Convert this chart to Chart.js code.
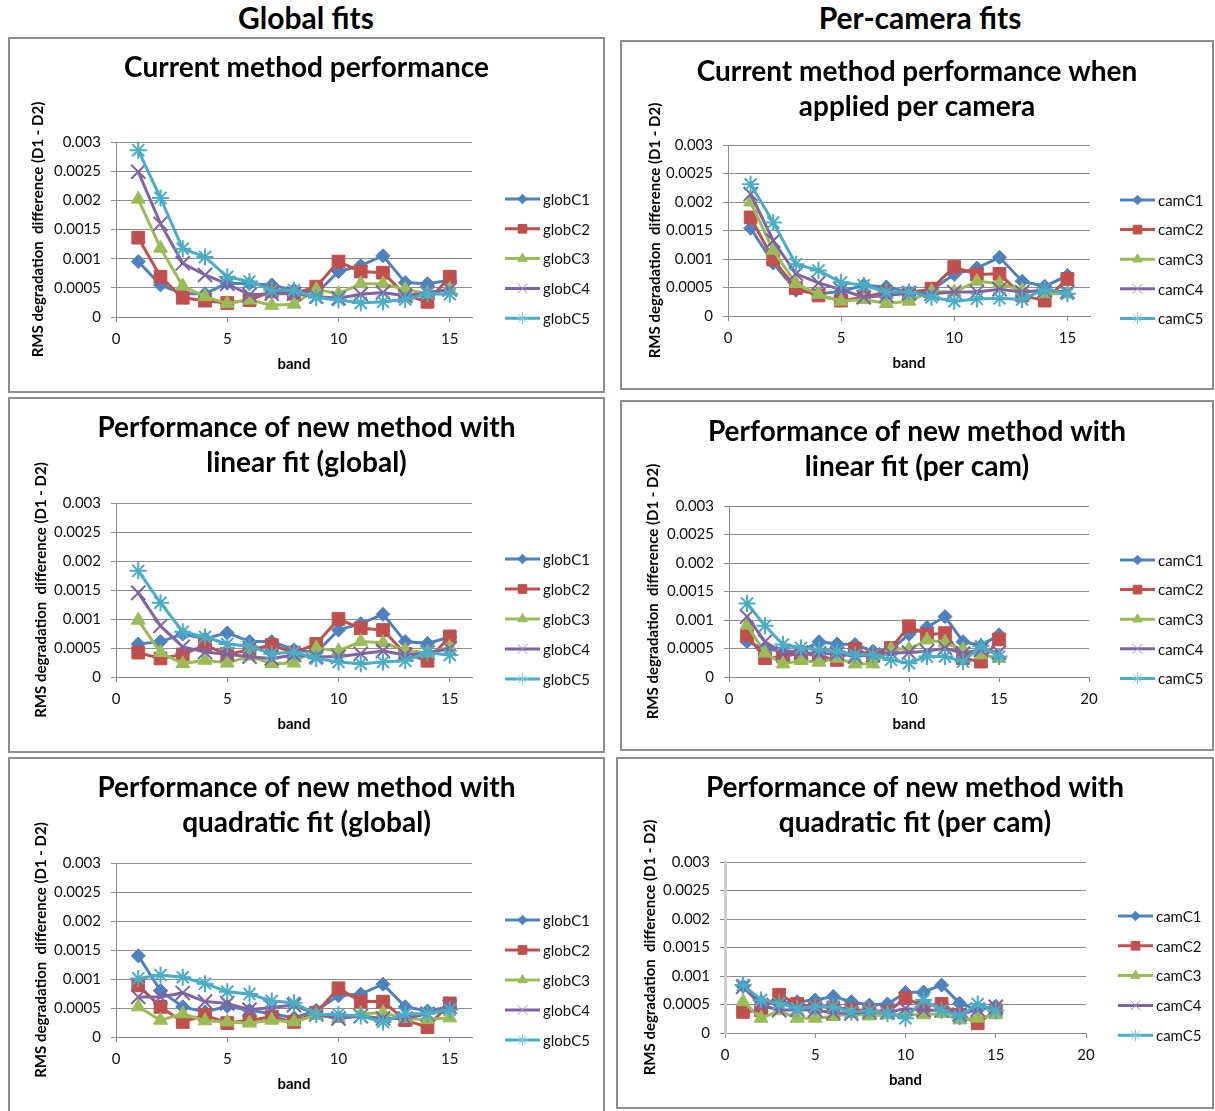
<!DOCTYPE html>
<html>
<head>
<meta charset="utf-8">
<script src="https://cdn.jsdelivr.net/npm/chart.js@4.4.1/dist/chart.umd.min.js"></script>
<style>
  html, body { margin: 0; padding: 0; background: #fff; }
  body { position: relative; width: 1215px; height: 1111px; overflow: hidden; font-family: Lato, "Open Sans", sans-serif; }
  .hdr { position: absolute; top: 0; height: 34px; line-height: 34px; text-align: center; font-weight: bold; font-size: 30px; color: #000; }
  canvas { position: absolute; }
  .frame { position: absolute; box-sizing: border-box; border: 2px solid #8e8e8e; pointer-events: none; }
</style>
</head>
<body>
<div class="hdr" style="left:6px;width:600px;">Global fits</div>
<div class="hdr" style="left:620px;width:600px;">Per-camera fits</div>
<script>
// ---- data: RMS degradation difference (D1 - D2) per band ----
const bands = [1, 2, 3, 4, 5, 6, 7, 8, 9, 10, 11, 12, 13, 14, 15];

const globNames = ['globC1', 'globC2', 'globC3', 'globC4', 'globC5'];
const camNames  = ['camC1', 'camC2', 'camC3', 'camC4', 'camC5'];

// current method, global fits
const curGlobC1 = [0.00095, 0.00055, 0.00040, 0.00040, 0.00058, 0.00057, 0.00055, 0.00046, 0.00040, 0.00078, 0.00088, 0.00105, 0.00059, 0.00057, 0.00063];
const curGlobC2 = [0.00136, 0.00069, 0.00033, 0.00028, 0.00024, 0.00029, 0.00044, 0.00040, 0.00052, 0.00095, 0.00078, 0.00076, 0.00038, 0.00026, 0.00069];
const curGlobC3 = [0.00202, 0.00118, 0.00053, 0.00035, 0.00023, 0.00029, 0.00020, 0.00022, 0.00047, 0.00040, 0.00057, 0.00057, 0.00047, 0.00040, 0.00047];
const curGlobC4 = [0.00249, 0.00160, 0.00092, 0.00072, 0.00057, 0.00038, 0.00040, 0.00040, 0.00035, 0.00032, 0.00039, 0.00042, 0.00036, 0.00042, 0.00047];
const curGlobC5 = [0.00286, 0.00204, 0.00117, 0.00103, 0.00069, 0.00061, 0.00046, 0.00046, 0.00033, 0.00029, 0.00024, 0.00026, 0.00030, 0.00040, 0.00039];

// current method, per camera
const curCamC1 = [0.00154, 0.00093, 0.00045, 0.00039, 0.00043, 0.00054, 0.00051, 0.00042, 0.00046, 0.00073, 0.00084, 0.00103, 0.00061, 0.00052, 0.00071];
const curCamC2 = [0.00173, 0.00099, 0.00049, 0.00036, 0.00027, 0.00033, 0.00042, 0.00038, 0.00048, 0.00086, 0.00073, 0.00074, 0.00036, 0.00027, 0.00065];
const curCamC3 = [0.00200, 0.00115, 0.00057, 0.00038, 0.00026, 0.00029, 0.00022, 0.00026, 0.00043, 0.00042, 0.00061, 0.00057, 0.00045, 0.00039, 0.00039];
const curCamC4 = [0.00214, 0.00132, 0.00074, 0.00058, 0.00046, 0.00033, 0.00036, 0.00040, 0.00039, 0.00042, 0.00042, 0.00047, 0.00042, 0.00045, 0.00042];
const curCamC5 = [0.00231, 0.00164, 0.00091, 0.00080, 0.00059, 0.00054, 0.00042, 0.00042, 0.00033, 0.00026, 0.00030, 0.00031, 0.00029, 0.00047, 0.00039];

// new method, linear fit, global
const linGlobC1 = [0.00057, 0.00061, 0.00074, 0.00066, 0.00076, 0.00061, 0.00061, 0.00047, 0.00042, 0.00081, 0.00092, 0.00108, 0.00061, 0.00058, 0.00069];
const linGlobC2 = [0.00042, 0.00032, 0.00039, 0.00055, 0.00039, 0.00047, 0.00055, 0.00042, 0.00057, 0.00100, 0.00084, 0.00081, 0.00040, 0.00028, 0.00070];
const linGlobC3 = [0.00098, 0.00042, 0.00023, 0.00029, 0.00024, 0.00036, 0.00023, 0.00024, 0.00050, 0.00045, 0.00061, 0.00059, 0.00046, 0.00042, 0.00051];
const linGlobC4 = [0.00145, 0.00088, 0.00052, 0.00043, 0.00039, 0.00035, 0.00032, 0.00038, 0.00035, 0.00035, 0.00040, 0.00045, 0.00038, 0.00042, 0.00049];
const linGlobC5 = [0.00183, 0.00128, 0.00078, 0.00069, 0.00057, 0.00053, 0.00040, 0.00043, 0.00032, 0.00026, 0.00023, 0.00026, 0.00028, 0.00042, 0.00038];

// new method, linear fit, per camera
const linCamC1 = [0.00062, 0.00049, 0.00045, 0.00045, 0.00062, 0.00058, 0.00057, 0.00045, 0.00048, 0.00075, 0.00087, 0.00106, 0.00062, 0.00055, 0.00074];
const linCamC2 = [0.00073, 0.00033, 0.00036, 0.00042, 0.00037, 0.00030, 0.00049, 0.00037, 0.00051, 0.00089, 0.00074, 0.00077, 0.00033, 0.00027, 0.00066];
const linCamC3 = [0.00091, 0.00042, 0.00023, 0.00029, 0.00026, 0.00033, 0.00023, 0.00023, 0.00049, 0.00049, 0.00065, 0.00061, 0.00048, 0.00039, 0.00033];
const linCamC4 = [0.00106, 0.00062, 0.00042, 0.00043, 0.00041, 0.00041, 0.00036, 0.00039, 0.00042, 0.00043, 0.00045, 0.00051, 0.00041, 0.00048, 0.00043];
const linCamC5 = [0.00129, 0.00090, 0.00057, 0.00051, 0.00048, 0.00045, 0.00039, 0.00039, 0.00030, 0.00024, 0.00036, 0.00036, 0.00027, 0.00054, 0.00036];

// new method, quadratic fit, global
const quadGlobC1 = [0.00140, 0.00080, 0.00052, 0.00043, 0.00053, 0.00046, 0.00040, 0.00033, 0.00046, 0.00071, 0.00074, 0.00091, 0.00052, 0.00045, 0.00052];
const quadGlobC2 = [0.00089, 0.00052, 0.00026, 0.00038, 0.00024, 0.00029, 0.00035, 0.00026, 0.00042, 0.00084, 0.00061, 0.00061, 0.00029, 0.00017, 0.00058];
const quadGlobC3 = [0.00052, 0.00029, 0.00040, 0.00028, 0.00026, 0.00024, 0.00029, 0.00026, 0.00038, 0.00032, 0.00040, 0.00042, 0.00032, 0.00030, 0.00033];
const quadGlobC4 = [0.00069, 0.00069, 0.00076, 0.00061, 0.00058, 0.00047, 0.00051, 0.00055, 0.00039, 0.00032, 0.00036, 0.00032, 0.00032, 0.00040, 0.00052];
const quadGlobC5 = [0.00101, 0.00107, 0.00103, 0.00092, 0.00078, 0.00074, 0.00062, 0.00059, 0.00039, 0.00039, 0.00036, 0.00026, 0.00040, 0.00040, 0.00047];

// new method, quadratic fit, per camera
const quadCamC1 = [0.00082, 0.00055, 0.00052, 0.00055, 0.00058, 0.00064, 0.00055, 0.00049, 0.00051, 0.00071, 0.00072, 0.00084, 0.00052, 0.00041, 0.00047];
const quadCamC2 = [0.00037, 0.00040, 0.00067, 0.00051, 0.00046, 0.00045, 0.00041, 0.00040, 0.00037, 0.00061, 0.00047, 0.00051, 0.00032, 0.00017, 0.00040];
const quadCamC3 = [0.00055, 0.00026, 0.00039, 0.00026, 0.00026, 0.00029, 0.00034, 0.00030, 0.00032, 0.00032, 0.00032, 0.00034, 0.00023, 0.00026, 0.00032];
const quadCamC4 = [0.00081, 0.00049, 0.00040, 0.00041, 0.00040, 0.00036, 0.00034, 0.00037, 0.00036, 0.00043, 0.00040, 0.00040, 0.00032, 0.00041, 0.00046];
const quadCamC5 = [0.00084, 0.00058, 0.00052, 0.00043, 0.00046, 0.00046, 0.00037, 0.00039, 0.00034, 0.00026, 0.00058, 0.00040, 0.00029, 0.00051, 0.00039];

// axis text
const yTickLabels = ['0', '0.0005', '0.001', '0.0015', '0.002', '0.0025', '0.003'];
const yAxisTitle = 'RMS degradation  difference (D1 - D2)';
const xAxisTitle = 'band';

// ---- styling ----
const FONT = 'Lato, "Open Sans", sans-serif';
const GRID = '#8e8e8e';
const seriesStyle = [
  { color: '#4F81BD', pointStyle: 'rectRot',  radius: 7,   bw: 1 },
  { color: '#C0504D', pointStyle: 'rect',     radius: 9,   bw: 1 },
  { color: '#9BBB59', pointStyle: 'triangle', radius: 8,   bw: 1 },
  { color: '#8064A2', pointStyle: 'crossRot', radius: 10,  bw: 2 },
  { color: '#4BACC6', pointStyle: 'star',     radius: 8.5, bw: 2 }
];

// legend drawn as line + marker, like a spreadsheet legend
const lineLegend = {
  id: 'lineLegend',
  afterDraw(chart, args, opts) {
    const ctx = chart.ctx;
    const drawPoint = Chart.helpers && Chart.helpers.drawPoint;
    ctx.save();
    chart.data.datasets.forEach((ds, i) => {
      const y = opts.y + i * opts.gap;
      ctx.strokeStyle = ds.borderColor;
      ctx.fillStyle = ds.borderColor;
      ctx.lineWidth = 3;
      ctx.beginPath();
      ctx.moveTo(opts.x, y);
      ctx.lineTo(opts.x + opts.len, y);
      ctx.stroke();
      if (drawPoint) {
        const cross = ds.pointStyle === 'crossRot' || ds.pointStyle === 'star';
        ctx.lineWidth = 1;
        if (cross) { ctx.strokeStyle = ds.legendMarkColor; }
        drawPoint(ctx, { pointStyle: ds.pointStyle, radius: ds.pointRadius * 0.68, rotation: 0, borderWidth: 1 }, opts.x + opts.len / 2, y);
      }
      ctx.fillStyle = '#111';
      ctx.font = opts.font;
      ctx.textAlign = 'left';
      ctx.textBaseline = 'middle';
      ctx.fillText(ds.label, opts.x + opts.len + 3, y + 1);
    });
    ctx.restore();
  }
};

// ---- panels (page coordinates) ----
const panels = [
  { title: ['Current method performance'], names: globNames,
    series: [curGlobC1, curGlobC2, curGlobC3, curGlobC4, curGlobC5], xMax: 16,
    rect: [8, 37, 605, 393], area: [116, 142, 472, 317], titleY: 68, yTitleX: 38.5, legend: [505, 199, 29.8] },
  { title: ['Current method performance when', 'applied per camera'], names: camNames,
    series: [curCamC1, curCamC2, curCamC3, curCamC4, curCamC5], xMax: 16,
    rect: [620, 40, 1214, 390], area: [728, 145, 1090, 316], titleY: 72, yTitleX: 655, legend: [1120, 200, 29.6] },
  { title: ['Performance of new method with', 'linear fit (global)'], names: globNames,
    series: [linGlobC1, linGlobC2, linGlobC3, linGlobC4, linGlobC5], xMax: 16,
    rect: [8, 397, 605, 753], area: [116, 503, 472, 677], titleY: 428, yTitleX: 41, legend: [505, 559, 30] },
  { title: ['Performance of new method with', 'linear fit (per cam)'], names: camNames,
    series: [linCamC1, linCamC2, linCamC3, linCamC4, linCamC5], xMax: 20,
    rect: [620, 400, 1214, 751], area: [729, 506, 1089, 677], titleY: 432, yTitleX: 653, legend: [1120, 560, 29.6] },
  { title: ['Performance of new method with', 'quadratic fit (global)'], names: globNames,
    series: [quadGlobC1, quadGlobC2, quadGlobC3, quadGlobC4, quadGlobC5], xMax: 16,
    rect: [8, 757, 605, 1113], area: [116, 863, 472, 1037], titleY: 788, yTitleX: 41, legend: [505, 920, 30] },
  { title: ['Performance of new method with', 'quadratic fit (per cam)'], names: camNames,
    series: [quadCamC1, quadCamC2, quadCamC3, quadCamC4, quadCamC5], xMax: 20,
    rect: [616, 757, 1214, 1109], area: [725, 862, 1086, 1033], titleY: 788, yTitleX: 650, legend: [1118, 916, 29.8],
    yAxisLine: { color: '#cfcfcf', width: 3 } }
];

const TITLE_SIZE = 28, TITLE_LH = 35;
const TICK_SIZE = 15, AXT_SIZE = 15, LEGEND_SIZE = 15;

panels.forEach(p => {
  const [L, T, R, B] = p.rect;
  const W = R - L, H = B - T;
  const cv = document.createElement('canvas');
  cv.width = W; cv.height = H;
  cv.style.left = L + 'px'; cv.style.top = T + 'px';
  cv.style.width = W + 'px'; cv.style.height = H + 'px';
  document.body.appendChild(cv);
  const fr = document.createElement('div');
  fr.className = 'frame';
  fr.style.left = L + 'px'; fr.style.top = T + 'px';
  fr.style.width = W + 'px'; fr.style.height = H + 'px';
  document.body.appendChild(fr);

  const a = { l: p.area[0] - L, t: p.area[1] - T, r: p.area[2] - L, b: p.area[3] - T };
  const titlePadTop = (p.titleY - T) - TITLE_LH / 2;
  const titlePadBottom = a.t - titlePadTop - TITLE_LH * p.title.length;
  const axtLH = AXT_SIZE * 1.2;
  const yTitleGap = (p.yTitleX - L) - axtLH / 2;
  const yWidth = a.l;
  const xHeight = 47 + axtLH / 2;
  const padBottom = H - a.b - xHeight;
  const legendSpace = W - a.r;
  const tickLH = TICK_SIZE * 1.2;
  const yLine = p.yAxisLine || { color: GRID, width: 1 };

  const datasets = p.series.map((vals, i) => {
    const s = seriesStyle[i];
    return {
      label: p.names[i],
      data: bands.map((b, j) => ({ x: b, y: vals[j] })),
      borderColor: s.color,
      backgroundColor: s.color,
      borderWidth: 3,
      tension: 0,
      pointStyle: s.pointStyle,
      pointRadius: s.radius,
      pointBackgroundColor: s.color,
      pointBorderColor: s.color,
      pointBorderWidth: s.bw,
      legendMarkColor: i === 3 ? '#a58fc4' : '#7fc6d9',
      order: 5 - i,
      clip: false
    };
  });

  new Chart(cv, {
    type: 'line',
    data: { datasets },
    plugins: [lineLegend],
    options: {
      responsive: false,
      animation: false,
      events: [],
      layout: { padding: { left: 0, right: 0, top: 0, bottom: padBottom } },
      plugins: {
        legend: { display: false },
        tooltip: { enabled: false },
        title: {
          display: true, text: p.title, color: '#000',
          font: { family: FONT, size: TITLE_SIZE, weight: 'bold', lineHeight: TITLE_LH + 'px' },
          padding: { top: titlePadTop, bottom: titlePadBottom }
        },
        lineLegend: {
          x: p.legend[0] - L, y: p.legend[1] - T, gap: p.legend[2], len: 35,
          font: LEGEND_SIZE + 'px ' + FONT
        }
      },
      scales: {
        x: {
          type: 'linear', min: 0, max: p.xMax,
          ticks: {
            stepSize: 5, includeBounds: false, color: '#111',
            font: { family: FONT, size: TICK_SIZE, lineHeight: 1.2 },
            padding: 22 - 5 - tickLH / 2,
            callback: v => String(v)
          },
          grid: { drawOnChartArea: false, drawTicks: true, tickLength: 5, color: GRID },
          border: { display: true, color: GRID, width: 1 },
          title: {
            display: true, text: xAxisTitle, color: '#000',
            font: { family: FONT, size: AXT_SIZE, weight: 'bold', lineHeight: 1.2 },
            padding: { top: 0, bottom: 0 }
          },
          afterFit: s => { s.height = xHeight; }
        },
        y: {
          type: 'linear', min: 0, max: 0.003,
          ticks: {
            stepSize: 0.0005, color: '#111',
            font: { family: FONT, size: TICK_SIZE, lineHeight: 1.2 },
            padding: 10,
            callback: (v, i) => yTickLabels[i]
          },
          grid: { color: GRID, lineWidth: 1, tickLength: 5, drawTicks: true },
          border: { display: true, color: yLine.color, width: yLine.width },
          title: {
            display: true, text: yAxisTitle, color: '#000',
            font: { family: FONT, size: AXT_SIZE, weight: 'bold', lineHeight: 1.2 },
            padding: { top: yTitleGap, bottom: 0 }
          },
          afterFit: s => { s.width = yWidth; }
        },
        // empty right-hand box that keeps room for the legend
        legendRoom: {
          type: 'linear', position: 'right', display: true,
          ticks: { display: false },
          grid: { display: false, drawTicks: false },
          border: { display: false },
          afterFit: s => { s.width = legendSpace; }
        }
      }
    }
  });
});
</script>
</body>
</html>
